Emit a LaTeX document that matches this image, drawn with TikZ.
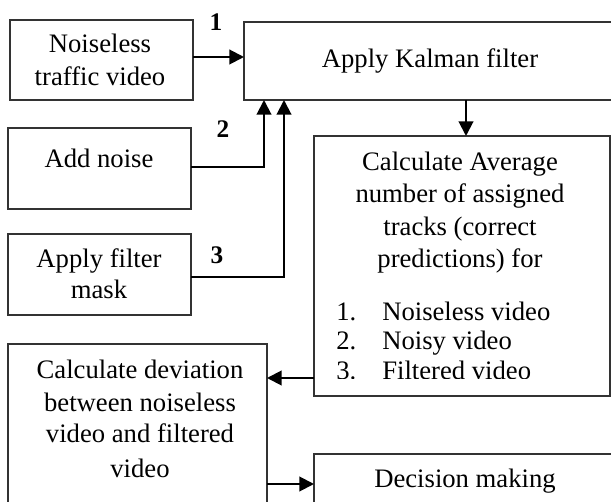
\documentclass[tikz,border=0pt]{standalone}
\usepackage{fontspec}
\setmainfont{Liberation Serif}
\usetikzlibrary{arrows.meta,calc}
\begin{document}
\begin{tikzpicture}[x=0.75pt,y=-0.75pt,
  box/.style={draw=black!80,line width=1.1pt,anchor=north west,inner sep=0pt,outer sep=0pt},
  txt/.style={font=\fontsize{20}{24}\selectfont,inner sep=0pt,text height=0.7em,text depth=0.22em,yshift=-1.5pt},
  num/.style={font=\fontsize{19}{22}\selectfont\bfseries,inner sep=0pt},
  arr/.style={line width=1.5pt,-{Triangle[length=11pt,width=11pt]}},
  ln/.style={line width=1.5pt}]
\useasboundingbox (0,0) rectangle (611,502);
% boxes
\node[box,minimum width=137.25pt,minimum height=60pt] (nl) at (10,20) {};
\node[box,minimum width=285pt,minimum height=58.5pt] (kal) at (244,22) {};
\node[box,minimum width=137.25pt,minimum height=60.75pt] (add) at (8,128) {};
\node[box,minimum width=137.25pt,minimum height=60.75pt] (flt) at (8,234) {};
\node[box,minimum width=222pt,minimum height=195pt] (avg) at (314,136) {};
\node[box,minimum width=194.25pt,minimum height=150pt] (dev) at (8,344) {};
\node[box,minimum width=240pt,minimum height=75pt] (dec) at (314,454) {};
% texts
\node[txt] (t1a) at (100,47) {Noiseless};
\node[txt] (t1b) at (100,80) {traffic video};
\node[txt] (tk) at (430,62) {Apply Kalman filter};
\node[txt] (ta) at (99,162) {Add noise};
\node[txt] (tf1) at (99,262) {Apply filter};
\node[txt] (tf2) at (99,293) {mask};
\node[txt] (tv1) at (460,165) {Calculate Average};
\node[txt] (tv2) at (460,197) {number of assigned};
\node[txt] (tv3) at (460,230) {tracks (correct};
\node[txt] (tv4) at (460,262) {predictions) for};
\begin{scope}
\clip (avg.north west) rectangle ($(avg.south east)+(0,-17)$);
\node[txt,anchor=west] (n1) at (336,315) {1.};
\node[txt,anchor=west] (i1) at (382,315) {Noiseless video};
\node[txt,anchor=west] (n2) at (336,344) {2.};
\node[txt,anchor=west] (i2) at (382,344) {Noisy video};
\node[txt,anchor=west] (n3) at (336,374) {3.};
\node[txt,anchor=west] (i3) at (382,374) {Filtered video};
\end{scope}
\node[txt] (td1) at (140,373) {Calculate deviation};
\node[txt] (td2) at (140,406) {between noiseless};
\node[txt] (td3) at (140,437) {video and filtered};
\node[txt] (td4) at (140,472) {video};
\node[txt] (tdm) at (465,482) {Decision making};
% numbers
\node[num] (l1) at (216,22) {1};
\node[num] (l2) at (223,129) {2};
\node[num] (l3) at (217,255) {3};
% connectors
\coordinate (k2) at ($(kal.south west)+(20,0)$);
\coordinate (k3) at ($(kal.south west)+(40,0)$);
\coordinate (ka) at ($(kal.south west)+(222,0)$);
\coordinate (aw) at ($(avg.south west)+(0,-18)$);
\coordinate (dw) at ($(dec.north west)+(0,30)$);
\draw[arr] ($(nl.east)+(0,-3)$) -- ($(nl.east -| kal.west)+(0,-3)$);
\draw[arr] ($(add.east)+(0,-1.5)$) -| (k2);
\draw[arr] ($(flt.east)+(0,2.5)$) -| (k3);
\draw[arr] (ka) -- (ka |- avg.north);
\draw[arr] (aw) -- (aw -| dev.east);
\draw[arr] (dw -| dev.east) -- (dw);
\end{tikzpicture}
\end{document}
